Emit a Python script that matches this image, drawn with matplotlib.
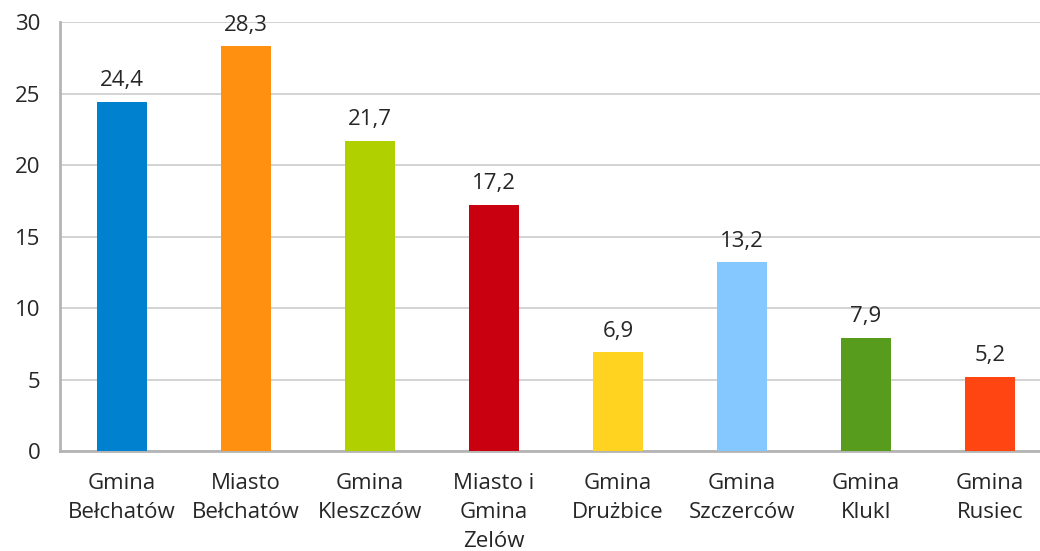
import numpy as np
import matplotlib
matplotlib.use('Agg')
import matplotlib.pyplot as plt

# dane
kategorie = ['Gmina\nBełchatów', 'Miasto\nBełchatów', 'Gmina\nKleszczów', 'Miasto i\nGmina\nZelów',
             'Gmina\nDrużbice', 'Gmina\nSzczerców', 'Gmina\nKlukI', 'Gmina\nRusiec']
wartosci = [24.4, 28.3, 21.7, 17.2, 6.9, 13.2, 7.9, 5.2]
etykiety = ['24,4', '28,3', '21,7', '17,2', '6,9', '13,2', '7,9', '5,2']
kolory = ['#0081D0', '#FF9010', '#B0D000', '#C8000F', '#FFD320', '#84C8FF', '#589C1E', '#FF4512']

plt.rcParams['font.family'] = ['Open Sans', 'DejaVu Sans']

fig = plt.figure(figsize=(10.4, 5.51), dpi=100)
ax = fig.add_axes([60 / 1040, 1 - 451 / 551, 992 / 1040, 429 / 551])

x = np.arange(len(kategorie))
ax.bar(x, wartosci, width=0.4, color=kolory, zorder=3)

for xi, v, t in zip(x, wartosci, etykiety):
    ax.text(xi, v + 0.75, t, ha='center', va='bottom', fontsize=16, color='#262626')

ax.set_xlim(-0.5, len(kategorie) - 0.5)
ax.set_ylim(0, 30)
ax.set_yticks(range(0, 31, 5))
ax.set_xticks(x)
ax.set_xticklabels(kategorie, fontsize=16, color='#262626', linespacing=1.5)
ax.tick_params(axis='y', labelsize=16, labelcolor='#262626', length=0, pad=14)
ax.tick_params(axis='x', length=0, pad=16)

ax.grid(axis='y', color='#CCCCCC', linewidth=1.2, zorder=0)
for s in ['left', 'bottom']:
    ax.spines[s].set_color('#B4B4B4')
    ax.spines[s].set_linewidth(2)
ax.spines['top'].set_visible(False)
ax.spines['right'].set_visible(False)

fig.savefig('out.png', dpi=100)
